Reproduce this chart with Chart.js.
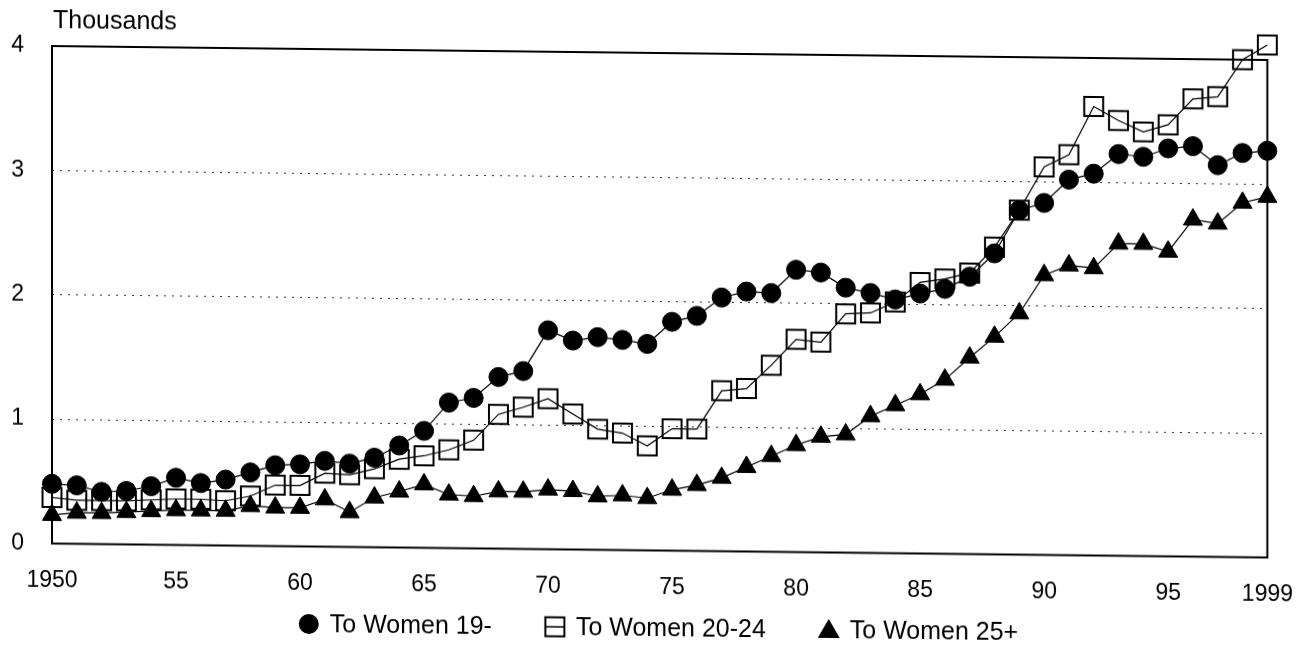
<!DOCTYPE html>
<html>
<head>
<meta charset="utf-8">
<script src="https://cdn.jsdelivr.net/npm/chart.js@4/dist/chart.umd.min.js"></script>
<style>
html,body{margin:0;padding:0;background:#fff;overflow:hidden;width:1316px;height:647px;}
#wrap{position:absolute;left:0;top:0;width:1316px;height:647px;transform:skewY(0.658deg);transform-origin:658px 323.5px;}
canvas{display:block;}
</style>
</head>
<body>
<div id="wrap"><canvas id="c" width="1316" height="647"></canvas></div>
<script>
// ---- data (thousands) ----
const years = [1950,1951,1952,1953,1954,1955,1956,1957,1958,1959,
               1960,1961,1962,1963,1964,1965,1966,1967,1968,1969,
               1970,1971,1972,1973,1974,1975,1976,1977,1978,1979,
               1980,1981,1982,1983,1984,1985,1986,1987,1988,1989,
               1990,1991,1992,1993,1994,1995,1996,1997,1998,1999];
const women19 = [0.48,0.47,0.42,0.43,0.47,0.54,0.50,0.53,0.59,0.65,
                 0.66,0.69,0.67,0.72,0.82,0.94,1.17,1.21,1.38,1.43,
                 1.76,1.68,1.71,1.69,1.66,1.84,1.89,2.04,2.09,2.08,
                 2.27,2.25,2.13,2.09,2.04,2.09,2.13,2.23,2.42,2.77,
                 2.83,3.02,3.07,3.23,3.21,3.28,3.30,3.15,3.25,3.27];
const women2024 = [0.37,0.35,0.35,0.35,0.36,0.37,0.37,0.36,0.40,0.49,
                   0.49,0.59,0.58,0.63,0.71,0.74,0.79,0.87,1.08,1.14,
                   1.21,1.09,0.97,0.94,0.84,0.98,0.98,1.29,1.31,1.50,
                   1.71,1.69,1.92,1.93,2.02,2.18,2.21,2.26,2.47,2.77,
                   3.12,3.22,3.61,3.50,3.41,3.47,3.68,3.70,4.00,4.12];
const women25 = [0.23,0.25,0.25,0.26,0.27,0.28,0.28,0.28,0.32,0.31,
                 0.31,0.38,0.28,0.40,0.45,0.51,0.43,0.42,0.46,0.46,
                 0.48,0.47,0.43,0.44,0.42,0.49,0.53,0.59,0.68,0.77,
                 0.86,0.93,0.95,1.10,1.19,1.28,1.40,1.58,1.75,1.94,
                 2.25,2.33,2.31,2.51,2.51,2.45,2.71,2.68,2.85,2.90];
const seriesLabels = ["To Women 19-", "To Women 20-24", "To Women 25+"];
const tickYears  = [1950,1955,1960,1965,1970,1975,1980,1985,1990,1995,1999];
const tickLabels = ["1950","55","60","65","70","75","80","85","90","95","1999"];
const yTitle = "Thousands";

const FONT = '"Liberation Sans", Arial, Helvetica, sans-serif';
const toXY = arr => years.map((y, i) => ({x: y, y: arr[i]}));

const boxPlugin = {
  id: 'box',
  beforeDatasetsDraw(chart) {
    const {ctx, chartArea: a} = chart;
    ctx.save();
    ctx.strokeStyle = '#000';
    ctx.lineWidth = 2;
    ctx.strokeRect(a.left, a.top, a.right - a.left, a.bottom - a.top);
    ctx.restore();
  }
};

const titlePlugin = {
  id: 'ytitle',
  afterDraw(chart) {
    const {ctx, chartArea: a} = chart;
    ctx.save();
    ctx.font = '25px ' + FONT;
    ctx.fillStyle = '#000';
    ctx.textAlign = 'left';
    ctx.textBaseline = 'middle';
    ctx.fillText(yTitle, a.left + 1, a.top - 25);
    ctx.restore();
  }
};

function drawMarker(ctx, style, cx, cy) {
  ctx.save();
  ctx.fillStyle = '#000';
  ctx.strokeStyle = '#000';
  if (style === 'circle') {
    ctx.beginPath(); ctx.arc(cx, cy, 10, 0, Math.PI * 2); ctx.fill();
  } else if (style === 'rect') {
    ctx.lineWidth = 2;
    ctx.strokeRect(cx - 9.5, cy - 9.5, 19, 19);
    ctx.lineWidth = 1.5;
    ctx.beginPath(); ctx.moveTo(cx - 9.5, cy); ctx.lineTo(cx + 9.5, cy); ctx.stroke();
  } else {
    ctx.beginPath();
    ctx.moveTo(cx, cy - 11);
    ctx.lineTo(cx + 11, cy + 8);
    ctx.lineTo(cx - 11, cy + 8);
    ctx.closePath(); ctx.fill();
  }
  ctx.restore();
}

const legendPlugin = {
  id: 'customLegend',
  afterDraw(chart) {
    const ctx = chart.ctx;
    ctx.save();
    ctx.font = '25px ' + FONT;
    ctx.fillStyle = '#000';
    ctx.textAlign = 'left';
    ctx.textBaseline = 'middle';
    const markerW = 22, gapMT = 10, gapItem = 52;
    const items = chart.data.datasets.map(ds => ({text: ds.label, style: ds.pointStyle, w: ctx.measureText(ds.label).width}));
    const total = items.reduce((s, it) => s + markerW + gapMT + it.w, 0) + gapItem * (items.length - 1);
    let x = chart.width / 2 - total / 2;
    const y = 628;
    for (const it of items) {
      drawMarker(ctx, it.style, x + markerW / 2, y);
      ctx.fillText(it.text, x + markerW + gapMT, y + 1);
      x += markerW + gapMT + it.w + gapItem;
    }
    ctx.restore();
  }
};

new Chart(document.getElementById('c'), {
  type: 'line',
  data: {
    datasets: [
      {
        label: seriesLabels[0], data: toXY(women19), order: 0,
        pointStyle: 'circle', pointRadius: 9.5, pointBorderWidth: 1,
        pointBackgroundColor: '#000', pointBorderColor: '#000',
        borderColor: '#000', borderWidth: 1.2, fill: false, clip: false
      },
      {
        label: seriesLabels[1], data: toXY(women2024), order: 1,
        pointStyle: 'rect', pointRadius: 13.4, pointBorderWidth: 2,
        pointBackgroundColor: 'rgba(0,0,0,0)', pointBorderColor: '#000',
        borderColor: '#000', borderWidth: 1.2, fill: false, clip: false
      },
      {
        label: seriesLabels[2], data: toXY(women25), order: 2,
        pointStyle: 'triangle', pointRadius: 11, pointBorderWidth: 1,
        pointBackgroundColor: '#000', pointBorderColor: '#000',
        borderColor: '#000', borderWidth: 1.2, fill: false, clip: false
      }
    ]
  },
  options: {
    responsive: false,
    animation: false,
    devicePixelRatio: 1,
    layout: {padding: {top: 53, right: 46, left: 0, bottom: 0}},
    elements: {line: {tension: 0}},
    plugins: {legend: {display: false}, tooltip: {enabled: false}, title: {display: false}},
    scales: {
      x: {
        type: 'linear', min: 1950, max: 1999,
        grid: {display: false, drawTicks: false},
        border: {display: false},
        afterBuildTicks: s => { s.ticks = tickYears.map(v => ({value: v})); },
        afterFit: s => { s.height = 96.5; },
        ticks: {
          autoSkip: false, maxRotation: 0, minRotation: 0, padding: 23, color: '#000',
          font: {family: FONT, size: 23},
          callback: v => tickLabels[tickYears.indexOf(v)]
        }
      },
      y: {
        min: 0, max: 4,
        afterFit: s => { s.width = 52; },
        grid: {
          drawTicks: false, lineWidth: 1,
          color: c => (c.tick && c.tick.value > 0 && c.tick.value < 4) ? '#333' : 'rgba(0,0,0,0)'
        },
        border: {display: false, dash: [2, 6]},
        ticks: {stepSize: 1, padding: 28, color: '#000', font: {family: FONT, size: 23}}
      }
    }
  },
  plugins: [boxPlugin, titlePlugin, legendPlugin]
});
</script>
</body>
</html>
